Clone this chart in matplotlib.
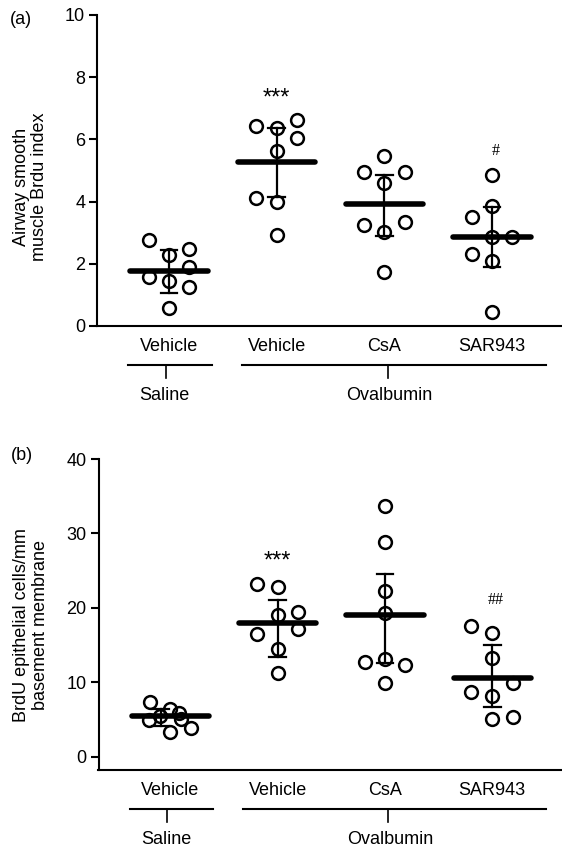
import matplotlib
matplotlib.use('Agg')
import matplotlib.pyplot as plt
import matplotlib.transforms as mtransforms

plt.rcParams['font.family'] = ['Liberation Sans', 'DejaVu Sans']
plt.rcParams['font.size'] = 13

groups = ['Vehicle', 'Vehicle', 'CsA', 'SAR943']
treatments = ['Saline', 'Ovalbumin']

# panel (a): airway smooth muscle BrdU index, one list per group
a_vals = [[2.77, 2.28, 2.47, 1.91, 1.59, 1.45, 1.24, 0.57],
          [6.43, 6.38, 6.62, 6.03, 5.63, 4.13, 4.00, 2.93],
          [5.48, 4.96, 4.96, 4.61, 3.25, 3.35, 3.03, 1.75],
          [4.86, 3.86, 3.49, 2.85, 2.87, 2.32, 2.09, 0.46]]
a_jit = [[-0.19, 0, 0.19, 0.19, -0.19, 0, 0.19, 0],
         [-0.19, 0, 0.19, 0.19, 0, -0.19, 0, 0],
         [0, -0.19, 0.19, 0, -0.19, 0.19, 0, 0],
         [0, 0, -0.19, 0, 0.19, -0.19, 0, 0]]
a_mean = [1.77, 5.28, 3.91, 2.85]
a_lo = [1.07, 4.16, 2.89, 1.91]
a_hi = [2.44, 6.36, 4.86, 3.82]
a_sig = ['', '***', '', '#']
a_sig_y = [0, 7.3, 0, 5.62]

# panel (b): BrdU epithelial cells / mm basement membrane
b_vals = [[7.3, 6.4, 5.5, 5.8, 5.0, 4.9, 3.9, 3.3],
          [23.15, 22.8, 19.5, 19.0, 16.5, 17.1, 14.5, 11.3],
          [33.7, 28.9, 22.3, 19.3, 12.65, 13.1, 12.25, 9.9],
          [17.5, 16.65, 13.25, 9.9, 8.75, 8.08, 5.07, 5.38]]
b_jit = [[-0.19, 0, -0.1, 0.08, 0.1, -0.2, 0.19, 0],
         [-0.19, 0, 0.19, 0, -0.19, 0.19, 0, 0],
         [0, 0, 0, 0, -0.19, 0, 0.19, 0],
         [-0.2, 0, 0, 0.19, -0.2, 0, 0, 0.19]]
b_mean = [5.4, 18.0, 19.0, 10.55]
b_lo = [4.15, 13.4, 12.6, 6.65]
b_hi = [6.4, 21.1, 24.6, 14.95]
b_err_dx = [-0.09, 0, 0, 0]
b_sig = ['', '***', '', '##']
b_sig_y = [0, 26.2, 0, 21.0]


def draw_panel(ax, vals, jit, mean, lo, hi, err_dx, sig, sig_y):
  for i in range(len(vals)):
    xs = [i + j for j in jit[i]]
    ax.plot(xs, vals[i], 'o', ms=9.2, mfc='none', mec='k', mew=1.8, zorder=3)
    ax.plot([i - 0.36, i + 0.36], [mean[i], mean[i]], color='k', lw=4.0,
            solid_capstyle='round', zorder=4)
    ex = i + err_dx[i]
    ax.plot([ex, ex], [lo[i], hi[i]], color='k', lw=1.6, zorder=4)
    for yy in (lo[i], hi[i]):
      ax.plot([ex - 0.078, ex + 0.078], [yy, yy], color='k', lw=1.6, zorder=4)
    if sig[i]:
      if sig[i].startswith('*'):
        ax.text(i, sig_y[i], sig[i], ha='center', va='center', fontsize=17)
      else:
        ax.text(i + 0.03, sig_y[i], sig[i], ha='center', va='center',
                fontsize=11.5, family='Liberation Serif')

  ax.set_xlim(-0.669, 3.65)
  ax.set_xticks([])
  for s in ['top', 'right']:
    ax.spines[s].set_visible(False)
  for s in ['left', 'bottom']:
    ax.spines[s].set_linewidth(1.5)
  ax.tick_params(axis='y', length=6, width=1.5, pad=2.5, labelsize=13)

  # group labels and treatment brackets under the axis
  tr = mtransforms.blended_transform_factory(ax.transData, ax.transAxes)
  for i, g in enumerate(groups):
    ax.text(i, -0.067, g, ha='center', va='center', transform=tr, fontsize=13)
  line_y = -0.127
  ax.plot([-0.38, 0.40], [line_y, line_y], color='k', lw=1.5, transform=tr, clip_on=False)
  ax.plot([-0.03, -0.03], [line_y, -0.166], color='k', lw=1.2, transform=tr, clip_on=False)
  ax.plot([0.68, 3.5], [line_y, line_y], color='k', lw=1.5, transform=tr, clip_on=False)
  ax.plot([2.03, 2.03], [line_y, -0.166], color='k', lw=1.2, transform=tr, clip_on=False)
  ax.text(-0.04, -0.223, treatments[0], ha='center', va='center', transform=tr, fontsize=13)
  ax.text(2.05, -0.223, treatments[1], ha='center', va='center', transform=tr, fontsize=13)


W, H = 562, 851
fig = plt.figure(figsize=(W / 100, H / 100), dpi=100)

ax1 = fig.add_axes([97 / W, 1 - 326 / H, 1 - 97 / W, 311 / H])
draw_panel(ax1, a_vals, a_jit, a_mean, a_lo, a_hi, [0, 0, 0, 0], a_sig, a_sig_y)
ax1.set_ylim(0, 10)
ax1.set_yticks([0, 2, 4, 6, 8, 10])

ax2 = fig.add_axes([98.5 / W, 1 - 770 / H, 1 - 98.5 / W, 311 / H])
draw_panel(ax2, b_vals, b_jit, b_mean, b_lo, b_hi, b_err_dx, b_sig, b_sig_y)
ax2.set_ylim(-1.8, 40)
ax2.set_yticks([0, 10, 20, 30, 40])

fig.text(30.5 / W, 1 - 186.5 / H, 'Airway smooth\nmuscle Brdu index', rotation=90,
         ha='center', va='center', multialignment='center', fontsize=13, linespacing=1.15)
fig.text(31 / W, 1 - 625 / H, 'BrdU epithelial cells/mm\nbasement membrane', rotation=90,
         ha='center', va='center', multialignment='center', fontsize=13, linespacing=1.15)
fig.text(21 / W, 1 - 20 / H, '(a)', ha='center', va='center', fontsize=13)
fig.text(21.5 / W, 1 - 455 / H, '(b)', ha='center', va='center', fontsize=13)

fig.savefig('out.png', dpi=100)
